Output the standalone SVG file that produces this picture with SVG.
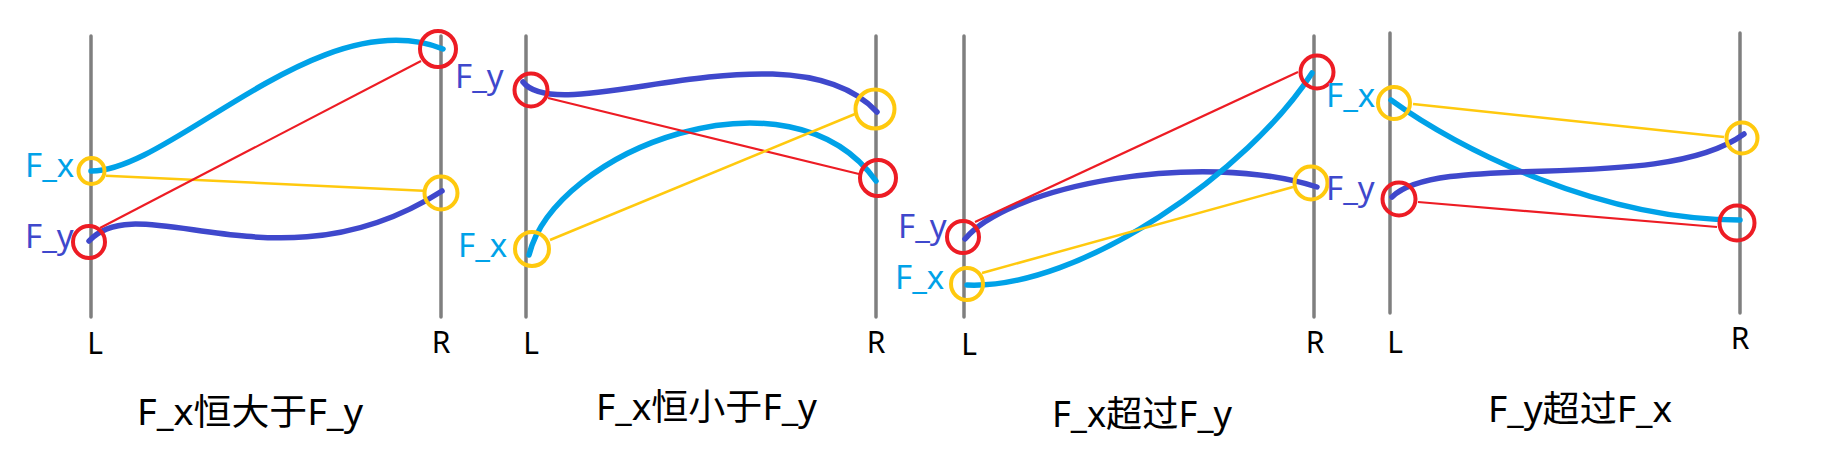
<svg xmlns="http://www.w3.org/2000/svg" width="1833" height="459" viewBox="0 0 1833 459">
<style>
.bg{fill:#ffffff}
.axis{stroke:#7f7f7f;stroke-width:3.5;stroke-linecap:round;fill:none}
.cx{stroke:#00a2e8;stroke-width:5.5;fill:none;stroke-linecap:round}
.cy{stroke:#3f48cc;stroke-width:5.5;fill:none;stroke-linecap:round}
.lr{stroke:#ed1c24;stroke-width:2.2;fill:none}
.ly{stroke:#ffc90e;stroke-width:2.5;fill:none}
.or{stroke:#ed1c24;stroke-width:4;fill:none}
.oy{stroke:#ffc90e;stroke-width:4;fill:none}
.ax{font-family:"Noto Sans","Liberation Sans",sans-serif;font-size:30px;fill:#000;text-anchor:middle}
.tx{font-family:"Noto Sans","Liberation Sans",sans-serif;font-size:33px;fill:#00a2e8}
.ty{font-family:"Noto Sans","Liberation Sans",sans-serif;font-size:33px;fill:#3f48cc}
.title{font-family:"Noto Sans","Noto Sans CJK SC",sans-serif;font-size:36px;fill:#000}
</style>
<rect class="bg" x="0" y="0" width="1833" height="459"/>

<g id="panel1">
  <g id="p1-axes">
    <line class="axis" x1="91" y1="36" x2="91" y2="317"/>
    <line class="axis" x1="441" y1="36" x2="441" y2="317"/>
    <text class="ax" x="95" y="354">L</text>
    <text class="ax" x="441" y="353">R</text>
    <text class="tx" x="25" y="177">F_x</text>
    <text class="ty" x="25" y="248">F_y</text>
  </g>
  <g id="p1-connectors">
    <path class="cx" d="M91,171 C170,172 320,0 443,49"/>
    <path class="cy" d="M89,241 C140,185 280,295 442,191"/>
    <line class="ly" x1="106" y1="175.7" x2="423" y2="190.7"/>
    <line class="lr" x1="100" y1="228" x2="421" y2="61"/>
  </g>
  <g id="p1-Lx"><circle class="oy" cx="91.5" cy="171" r="13"/></g>
  <g id="p1-Ly"><circle class="or" cx="89" cy="242" r="16"/></g>
  <g id="p1-Rx"><circle class="or" cx="438" cy="49" r="18"/></g>
  <g id="p1-Ry"><circle class="oy" cx="441" cy="193" r="16.5"/></g>
  <text id="p1-title" class="title" x="137" y="425" textLength="226" lengthAdjust="spacingAndGlyphs">F_x恒大于F_y</text>
</g>

<g id="panel2">
  <g id="p2-axes">
    <line class="axis" x1="526" y1="36" x2="526" y2="317"/>
    <line class="axis" x1="876" y1="36" x2="876" y2="317"/>
    <text class="ax" x="531" y="354">L</text>
    <text class="ax" x="876" y="353">R</text>
    <text class="ty" x="455" y="88">F_y</text>
    <text class="tx" x="458" y="257">F_x</text>
  </g>
  <g id="p2-connectors">
    <path class="cy" d="M523,82 C560,130 790,20 877,112"/>
    <path class="cx" d="M529,255 C555,150 790,60 876,181"/>
    <line class="lr" x1="548" y1="98" x2="859" y2="174"/>
    <line class="ly" x1="550" y1="240" x2="855" y2="114"/>
  </g>
  <g id="p2-Ly"><circle class="or" cx="531" cy="90" r="16.5"/></g>
  <g id="p2-Lx"><circle class="oy" cx="532" cy="249" r="17"/></g>
  <g id="p2-Rx"><circle class="oy" cx="875" cy="109" r="19.5"/></g>
  <g id="p2-Ry"><circle class="or" cx="878" cy="178" r="18"/></g>
  <text id="p2-title" class="title" x="596" y="420" textLength="221" lengthAdjust="spacingAndGlyphs">F_x恒小于F_y</text>
</g>

<g id="panel3">
  <g id="p3-axes">
    <line class="axis" x1="964" y1="36" x2="964" y2="317"/>
    <line class="axis" x1="1314" y1="36" x2="1314" y2="317"/>
    <text class="ax" x="969" y="355">L</text>
    <text class="ax" x="1315" y="353">R</text>
    <text class="ty" x="898" y="238">F_y</text>
    <text class="tx" x="895" y="289">F_x</text>
  </g>
  <g id="p3-connectors">
    <path class="cy" d="M965,239 C1010,185 1200,150 1317,187"/>
    <path class="cx" d="M967,285 C1080,290 1250,170 1312,73"/>
    <line class="lr" x1="975" y1="222" x2="1298" y2="72"/>
    <line class="ly" x1="982" y1="273" x2="1293" y2="187"/>
  </g>
  <g id="p3-Ly"><circle class="or" cx="963" cy="237" r="16"/></g>
  <g id="p3-Lx"><circle class="oy" cx="967" cy="284" r="16"/></g>
  <g id="p3-Rx"><circle class="or" cx="1317" cy="72" r="16.5"/></g>
  <g id="p3-Ry"><circle class="oy" cx="1311" cy="183" r="16.5"/></g>
  <text id="p3-title" class="title" x="1052" y="427" textLength="180" lengthAdjust="spacingAndGlyphs">F_x超过F_y</text>
</g>

<g id="panel4">
  <g id="p4-axes">
    <line class="axis" x1="1390" y1="33" x2="1390" y2="313"/>
    <line class="axis" x1="1740" y1="33" x2="1740" y2="313"/>
    <text class="ax" x="1395" y="353">L</text>
    <text class="ax" x="1740" y="349">R</text>
    <text class="tx" x="1326" y="107">F_x</text>
    <text class="ty" x="1326" y="200">F_y</text>
  </g>
  <g id="p4-connectors">
    <path class="cx" d="M1391,100 C1460,150 1600,220 1740,220"/>
    <path class="cy" d="M1392,197 C1440,150 1660,195 1744,134"/>
    <line class="ly" x1="1413" y1="104" x2="1724" y2="137"/>
    <line class="lr" x1="1418" y1="202" x2="1717" y2="227"/>
  </g>
  <g id="p4-Lx"><circle class="oy" cx="1394" cy="103" r="16"/></g>
  <g id="p4-Ly"><circle class="or" cx="1399" cy="199" r="16.5"/></g>
  <g id="p4-Rx"><circle class="oy" cx="1742" cy="138" r="15.5"/></g>
  <g id="p4-Ry"><circle class="or" cx="1737" cy="223" r="17.5"/></g>
  <text id="p4-title" class="title" x="1488" y="422" textLength="184" lengthAdjust="spacingAndGlyphs">F_y超过F_x</text>
</g>
</svg>
